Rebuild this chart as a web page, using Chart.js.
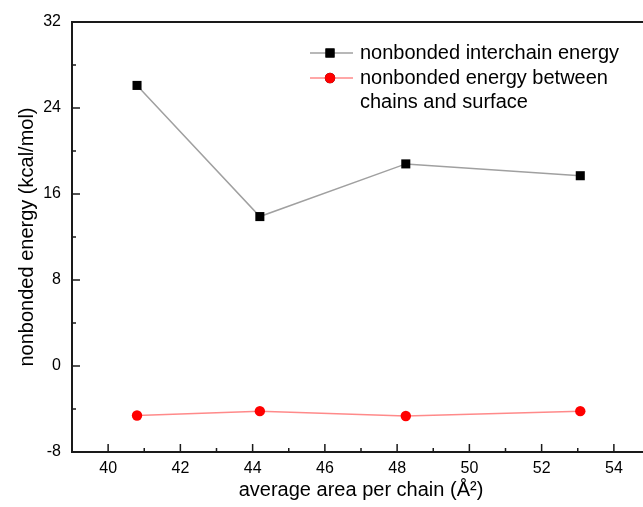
<!DOCTYPE html>
<html>
<head>
<meta charset="utf-8">
<script src="https://cdn.jsdelivr.net/npm/chart.js@4"></script>
<style>
  body { margin: 0; overflow: hidden; background: #fff; }
  #wrap { width: 660px; height: 507px; }
</style>
</head>
<body>
<div id="wrap"><canvas id="chart"></canvas></div>
<script>
// values
const areaPerChain = [40.8, 44.2, 48.24, 53.07];
const interchainEnergy = [26.1, 13.9, 18.8, 17.7];
const surfaceEnergy = [-4.6, -4.2, -4.65, -4.2];
const xTicks = [40, 42, 44, 46, 48, 50, 52, 54];
const xMinorTicks = [39, 41, 43, 45, 47, 49, 51, 53, 55];
const yTicks = [-8, 0, 8, 16, 24, 32];
const yMinorTicks = [-4, 4, 12, 20, 28];
const seriesNames = ["nonbonded interchain energy", ["nonbonded energy between", "chains and surface"]];

const FONT = "'Liberation Sans', Arial, sans-serif";
const AXIS = "#1a1a1a";

function points(ys) {
    return areaPerChain.map(function (x, i) { return { x: x, y: ys[i] }; });
}

// axis frame with inward ticks, plus the legend box in the top right
const framePlugin = {
    id: "frame",
    afterDraw(chart) {
        const ctx = chart.ctx;
        const a = chart.chartArea;
        const xs = chart.scales.x, ys = chart.scales.y;
        ctx.save();
        ctx.strokeStyle = AXIS;
        ctx.lineWidth = 2;
        ctx.strokeRect(a.left, a.top, a.right - a.left, a.bottom - a.top);

        ctx.lineWidth = 1.5;
        ctx.beginPath();
        xTicks.forEach(function (v) {
            const p = xs.getPixelForValue(v);
            ctx.moveTo(p, a.bottom); ctx.lineTo(p, a.bottom - 8);
        });
        xMinorTicks.forEach(function (v) {
            const p = xs.getPixelForValue(v);
            ctx.moveTo(p, a.bottom); ctx.lineTo(p, a.bottom - 4);
        });
        yTicks.forEach(function (v) {
            const p = ys.getPixelForValue(v);
            ctx.moveTo(a.left, p); ctx.lineTo(a.left + 8, p);
        });
        yMinorTicks.forEach(function (v) {
            const p = ys.getPixelForValue(v);
            ctx.moveTo(a.left, p); ctx.lineTo(a.left + 4, p);
        });
        ctx.stroke();

        // legend
        const lx = 310, ly = 53, gap = 25;
        ctx.font = "20px " + FONT;
        ctx.fillStyle = "#000";
        ctx.textBaseline = "middle";
        chart.data.datasets.forEach(function (ds, i) {
            const y = ly + i * gap;
            ctx.strokeStyle = ds.borderColor;
            ctx.lineWidth = 1.5;
            ctx.beginPath();
            ctx.moveTo(lx, y); ctx.lineTo(lx + 43, y);
            ctx.stroke();
            Chart.helpers.drawPoint(ctx, {
                pointStyle: ds.pointStyle,
                radius: ds.pointRadius,
                borderWidth: 0
            }, lx + 20, y);
            ctx.fillStyle = ds.pointBackgroundColor;
            ctx.fill();
            ctx.fillStyle = "#000";
            const name = seriesNames[i];
            const lines = Array.isArray(name) ? name : [name];
            lines.forEach(function (t, j) {
                ctx.fillText(t, lx + 50, y + j * 24);
            });
        });
        ctx.restore();
    }
};

new Chart(document.getElementById("chart"), {
    type: "line",
    data: {
        datasets: [{
            label: "nonbonded interchain energy",
            data: points(interchainEnergy),
            borderColor: "#a0a0a0",
            borderWidth: 1.5,
            pointStyle: "rect",
            pointRadius: 6.4,
            pointBorderWidth: 0,
            pointBackgroundColor: "#000",
            pointBorderColor: "#000"
        }, {
            label: "nonbonded energy between chains and surface",
            data: points(surfaceEnergy),
            borderColor: "#ff8a8a",
            borderWidth: 1.5,
            pointStyle: "circle",
            pointRadius: 5.2,
            pointBorderWidth: 0,
            pointBackgroundColor: "#ff0000",
            pointBorderColor: "#ff0000"
        }]
    },
    options: {
        responsive: true,
        maintainAspectRatio: false,
        animation: false,
        layout: { padding: { top: 22, right: 10, bottom: 0, left: 0 } },
        plugins: {
            legend: { display: false },
            tooltip: { enabled: false }
        },
        scales: {
            x: {
                type: "linear",
                min: 39,
                max: 55,
                afterBuildTicks: function (scale) {
                    scale.ticks = xTicks.map(function (v) { return { value: v }; });
                },
                afterFit: function (scale) { scale.height = 55; },
                grid: { display: false, drawTicks: false },
                border: { display: false },
                ticks: { color: "#000", padding: 7, font: { family: FONT, size: 16 } },
                title: {
                    display: true,
                    text: "average area per chain (Å²)",
                    color: "#000",
                    padding: { top: 0, bottom: 5 },
                    font: { family: FONT, size: 20 }
                }
            },
            y: {
                min: -8,
                max: 32,
                afterBuildTicks: function (scale) {
                    scale.ticks = yTicks.map(function (v) { return { value: v }; });
                },
                afterFit: function (scale) { scale.width = 72; },
                grid: { display: false, drawTicks: false },
                border: { display: false },
                ticks: { color: "#000", padding: 11, font: { family: FONT, size: 16 } },
                title: {
                    display: true,
                    text: "nonbonded energy (kcal/mol)",
                    color: "#000",
                    padding: { top: 15, bottom: 0 },
                    font: { family: FONT, size: 20 }
                }
            }
        }
    },
    plugins: [framePlugin]
});
</script>
</body>
</html>
